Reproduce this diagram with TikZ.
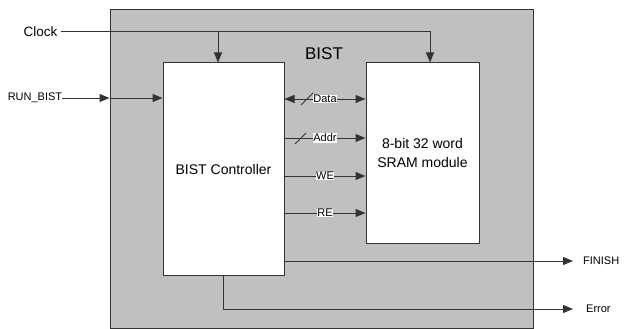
\documentclass[tikz,border=0pt]{standalone}
\usepackage{fontspec}
\setmainfont{Liberation Sans}
\usetikzlibrary{arrows.meta,calc}
\definecolor{boxgray}{HTML}{C0C0C0}
\definecolor{linec}{HTML}{333333}
\begin{document}
\begin{tikzpicture}[x=1pt,y=-1pt,
  wire/.style={draw=linec, line width=1pt},
  arr/.style={wire,-{Triangle[length=10pt,width=8pt]}},
  darr/.style={wire,{Triangle[length=10pt,width=8pt]}-{Triangle[length=10pt,width=8pt]}},
  blk/.style={draw=linec, line width=1pt, fill=white, inner sep=0pt, align=center, font=\fontsize{14}{19}\selectfont},
  sig/.style={fill=white, inner sep=0.6pt, font=\fontsize{11}{12}\selectfont},
  ext/.style={inner sep=0pt, font=\fontsize{11}{12}\selectfont},
  slash/.style={draw=linec, line width=0.8pt}
]
\useasboundingbox (0,0) rectangle (624,329);
% outer BIST box
\node[draw=linec, line width=1pt, fill=boxgray, minimum width=423pt, minimum height=318pt, inner sep=0pt] (outer) at (321.5,169) {};
\node[font=\fontsize{17}{20}\selectfont] (bistlbl) at (324,54) {BIST};
% inner blocks
\node[blk, minimum width=121pt, minimum height=212pt] (ctrl) at (223.5,169) {BIST Controller};
\node[blk, minimum width=113pt, minimum height=180pt] (sram) at (422.5,153) {8-bit 32 word\\SRAM module};
% external labels
\node[inner sep=0pt, font=\fontsize{13.5}{15}\selectfont] (clk) at (40.5,32) {Clock};
\node[ext] (run) at (35,98) {RUN\_BIST};
\node[ext, anchor=west] (fin) at (583,261) {FINISH};
\node[ext, anchor=west] (err) at (586,309) {Error};
% clock
\coordinate (clkA) at (218,32);
\draw[arr] ([xshift=3pt]clk.east) -| ($(sram.north)+(7.5,0)$);
\draw[arr] (clkA) -- (clkA |- ctrl.north);
% run bist
\draw[arr] (run.east) -- (outer.west |- run.east);
\draw[arr] (outer.west |- run.east) -- (ctrl.west |- run.east);
% data / control signals
\draw[darr] (ctrl.east |- 0,99) -- node[sig] (dlbl) {Data} (sram.west |- 0,99);
\draw[slash] (301,105) -- (313,93);
\draw[arr] (ctrl.east |- 0,138) -- node[sig] (albl) {Addr} (sram.west |- 0,138);
\draw[slash] (295,144) -- (306,133);
\draw[arr] (ctrl.east |- 0,176) -- node[sig] (wlbl) {WE} (sram.west |- 0,176);
\draw[arr] (ctrl.east |- 0,213) -- node[sig] (rlbl) {RE} (sram.west |- 0,213);
% outputs
\draw[arr] (ctrl.east |- fin.west) -- ([xshift=-10pt]fin.west);
\draw[arr] (ctrl.south) |- ([xshift=-13pt]err.west);
\end{tikzpicture}
\end{document}
